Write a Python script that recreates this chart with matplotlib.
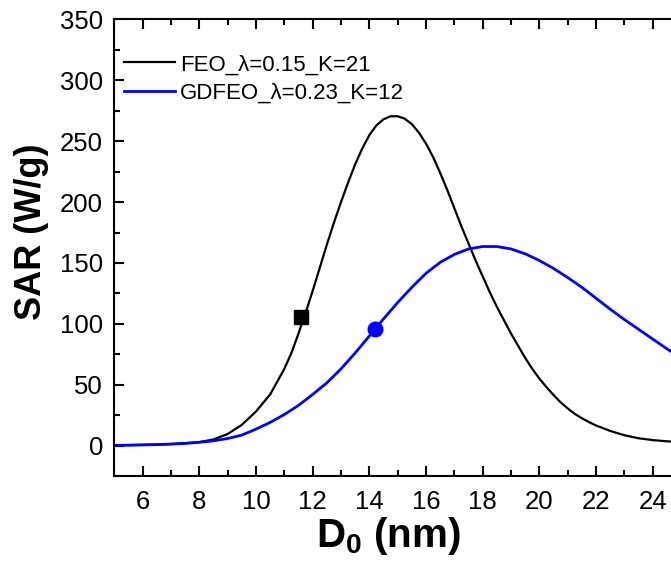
import matplotlib
matplotlib.use('Agg')
import matplotlib.pyplot as plt
from matplotlib.ticker import MultipleLocator

plt.rcParams['font.family'] = ['Liberation Sans', 'DejaVu Sans']
plt.rcParams['mathtext.fontset'] = 'custom'
plt.rcParams['mathtext.rm'] = 'Liberation Sans'
plt.rcParams['mathtext.bf'] = 'Liberation Sans:bold'

# FEO curve: D0 (nm) and SAR (W/g)
d0_feo = [5.0, 5.5, 6.0, 6.5, 7.0, 7.5, 8.0, 8.5, 9.0, 9.5, 10.0, 10.5, 11.0,
          11.25, 11.5, 11.75, 12.0, 12.25, 12.5, 12.75, 13.0, 13.25, 13.5, 13.75,
          14.0, 14.25, 14.5, 14.75, 15.0, 15.25, 15.5, 15.75, 16.0, 16.25, 16.5,
          16.75, 17.0, 17.25, 17.5, 17.75, 18.0, 18.25, 18.5, 18.75, 19.0, 19.25,
          19.5, 19.75, 20.0, 20.25, 20.5, 20.75, 21.0, 21.25, 21.5, 21.75, 22.0,
          22.5, 23.0, 23.5, 24.0, 24.5, 25.0]
sar_feo = [0.3, 0.4, 0.6, 0.9, 1.3, 1.9, 2.8, 5.0, 9.5, 17, 28, 42, 63,
           76, 92, 109, 127, 146, 165, 183, 200, 216, 231, 244,
           255, 263, 268, 270.5, 270.5, 268.5, 264, 257, 248, 237, 224,
           210, 195, 180, 166, 152, 139, 126, 114, 103, 92, 82,
           72, 63, 55, 48, 41.5, 35.5, 30.5, 26, 22.5, 19.3, 16.5,
           12, 8.5, 6, 4.5, 3.5, 2.8]

# GDFEO curve
d0_gdfeo = [5.0, 5.5, 6.0, 6.5, 7.0, 7.5, 8.0, 8.5, 9.0, 9.5, 10.0, 10.5, 11.0,
            11.5, 12.0, 12.5, 13.0, 13.5, 14.0, 14.5, 15.0, 15.5, 16.0, 16.5,
            17.0, 17.5, 18.0, 18.5, 19.0, 19.5, 20.0, 20.5, 21.0, 21.5, 22.0,
            22.5, 23.0, 23.5, 24.0, 24.5, 25.0]
sar_gdfeo = [0.2, 0.3, 0.5, 0.8, 1.2, 1.8, 2.7, 3.9, 5.8, 8.6, 13.5, 19, 25.5,
             33, 42, 51.5, 63, 76, 90, 104, 117.5, 130, 141.5, 150.5,
             157, 161.5, 163.5, 163.5, 161.5, 157.5, 152, 145.5, 138, 130, 121,
             112, 103.5, 95.5, 87.5, 79.5, 72]

# marked points
feo_mark = (11.6, 106)
gdfeo_mark = (14.2, 96)

labels = ['FEO_\u03bb=0.15_K=21', 'GDFEO_\u03bb=0.23_K=12']

fig = plt.figure(figsize=(6.71, 5.66), dpi=100)
ax = fig.add_axes([0.1703, 0.159, 0.8447, 0.8066])

ax.plot(d0_feo, sar_feo, color='black', lw=1.6, label=labels[0])
ax.plot(d0_gdfeo, sar_gdfeo, color='#0000ff', lw=2.0, label=labels[1])
ax.plot(*feo_mark, marker='s', color='black', markersize=10, ls='none')
ax.plot(*gdfeo_mark, marker='o', color='#0000ff', markersize=10.5, ls='none')

ax.set_xlim(5, 25)
ax.set_ylim(-25, 350)
ax.xaxis.set_major_locator(MultipleLocator(2))
ax.xaxis.set_minor_locator(MultipleLocator(1))
ax.yaxis.set_major_locator(MultipleLocator(50))
ax.yaxis.set_minor_locator(MultipleLocator(25))
ax.tick_params(which='both', direction='in', top=True, right=True,
               width=1.5, labelsize=18.5)
ax.tick_params(axis='x', which='major', length=7, pad=10)
ax.tick_params(axis='y', which='major', length=7, pad=8)
ax.tick_params(which='minor', length=4)
for s in ax.spines.values():
    s.set_linewidth(1.5)

ax.set_xlabel(r'$\mathbf{D_0}$ (nm)', fontsize=29, fontweight='bold')
ax.set_ylabel('SAR (W/g)', fontsize=26, fontweight='bold')
ax.xaxis.set_label_coords(0.484, -0.085)
ax.yaxis.set_label_coords(-0.115, 0.535)

ax.legend(loc='upper left', bbox_to_anchor=(-0.01, 0.958), frameon=False,
          fontsize=16, handlelength=2.3, handletextpad=0.2, labelspacing=0.35,
          borderaxespad=0.3)

fig.savefig('out.png', dpi=100)
